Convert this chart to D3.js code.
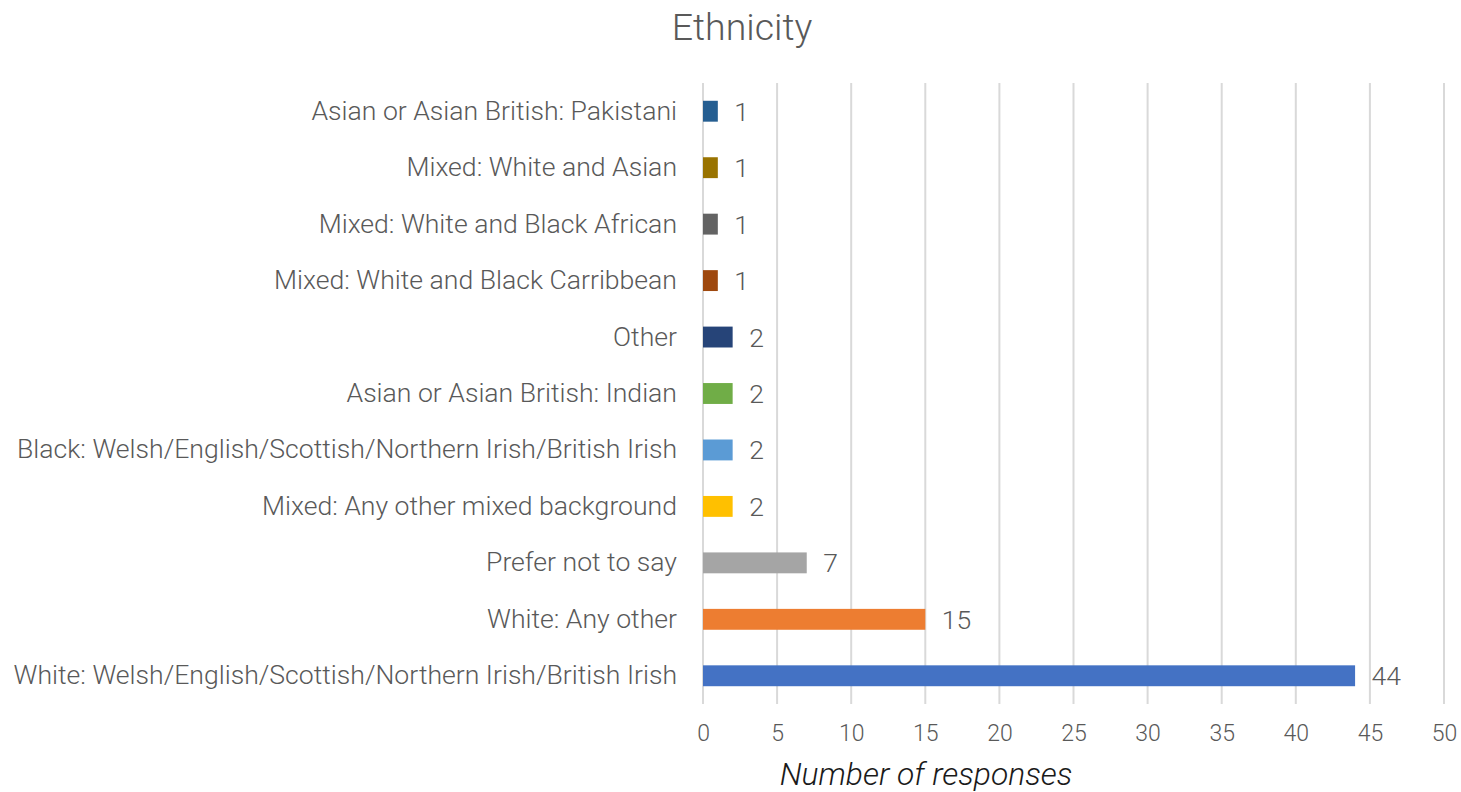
<!DOCTYPE html>
<html>
<head>
<meta charset="utf-8">
<script src="https://cdn.jsdelivr.net/npm/d3@7"></script>
<style>
  html, body { margin: 0; padding: 0; background: #fff; }
  svg { display: block; font-family: Roboto, sans-serif; font-weight: 300; }
</style>
</head>
<body>
<svg id="chart" width="1461" height="792"></svg>
<script>
// Categories from top to bottom, as in the picture
const categories = [
  "Asian or Asian British: Pakistani",
  "Mixed: White and Asian",
  "Mixed: White and Black African",
  "Mixed: White and Black Carribbean",
  "Other",
  "Asian or Asian British: Indian",
  "Black: Welsh/English/Scottish/Northern Irish/British Irish",
  "Mixed: Any other mixed background",
  "Prefer not to say",
  "White: Any other",
  "White: Welsh/English/Scottish/Northern Irish/British Irish"
];
const responses = [1, 1, 1, 1, 2, 2, 2, 2, 7, 15, 44];
const barColors = [
  "#255E91", "#997300", "#636363", "#9E480E", "#264478",
  "#70AD47", "#5B9BD5", "#FFC000", "#A5A5A5", "#ED7D31", "#4472C4"
];
const xTicks = [0, 5, 10, 15, 20, 25, 30, 35, 40, 45, 50];

const svg = d3.select("#chart");
const textColor = "#595959";

const plot = { left: 703, right: 1444, top: 83, bottom: 704 };

const x = d3.scaleLinear().domain([0, 50]).range([plot.left, plot.right]);
const y = d3.scaleBand().domain(categories).range([plot.top, plot.bottom]).paddingInner(0.63).paddingOuter(0.315);

// Title
svg.append("text")
  .attr("x", 742).attr("y", 40)
  .attr("text-anchor", "middle")
  .attr("font-size", 37.5)
  .attr("fill", textColor)
  .text("Ethnicity");

// Gridlines
svg.append("g")
  .selectAll("line")
  .data(xTicks)
  .join("line")
  .attr("x1", d => x(d)).attr("x2", d => x(d))
  .attr("y1", plot.top).attr("y2", plot.bottom)
  .attr("stroke", "#d9d9d9")
  .attr("stroke-width", 2);

// Bars
svg.append("g")
  .selectAll("rect")
  .data(categories)
  .join("rect")
  .attr("x", x(0))
  .attr("y", d => y(d))
  .attr("width", (d, i) => x(responses[i]) - x(0))
  .attr("height", y.bandwidth())
  .attr("fill", (d, i) => barColors[i]);

// Value labels
svg.append("g")
  .selectAll("text")
  .data(categories)
  .join("text")
  .attr("x", (d, i) => x(responses[i]) + 16.5)
  .attr("y", d => y(d) + y.bandwidth() / 2)
  .attr("dy", "0.36em")
  .attr("font-size", 26.5)
  .attr("fill", textColor)
  .text((d, i) => responses[i]);

// Category axis
const yAxis = svg.append("g")
  .attr("transform", `translate(${plot.left},0)`)
  .call(d3.axisLeft(y).tickSize(0).tickPadding(26));
yAxis.select(".domain").remove();
yAxis.selectAll("text")
  .attr("font-family", "Roboto, sans-serif")
  .attr("font-size", 26.6)
  .attr("fill", textColor);

// Value axis
const xAxis = svg.append("g")
  .attr("transform", `translate(0,${plot.bottom})`)
  .call(d3.axisBottom(x).tickValues(xTicks).tickSize(0).tickPadding(21));
xAxis.select(".domain").remove();
xAxis.selectAll("text")
  .attr("font-family", "Roboto, sans-serif")
  .attr("font-size", 23)
  .attr("fill", textColor);

// Axis title
svg.append("text")
  .attr("x", 926).attr("y", 785)
  .attr("text-anchor", "middle")
  .attr("font-size", 31.8)
  .attr("font-style", "italic")
  .attr("fill", "#1a1a1a")
  .text("Number of responses");
</script>
</body>
</html>
